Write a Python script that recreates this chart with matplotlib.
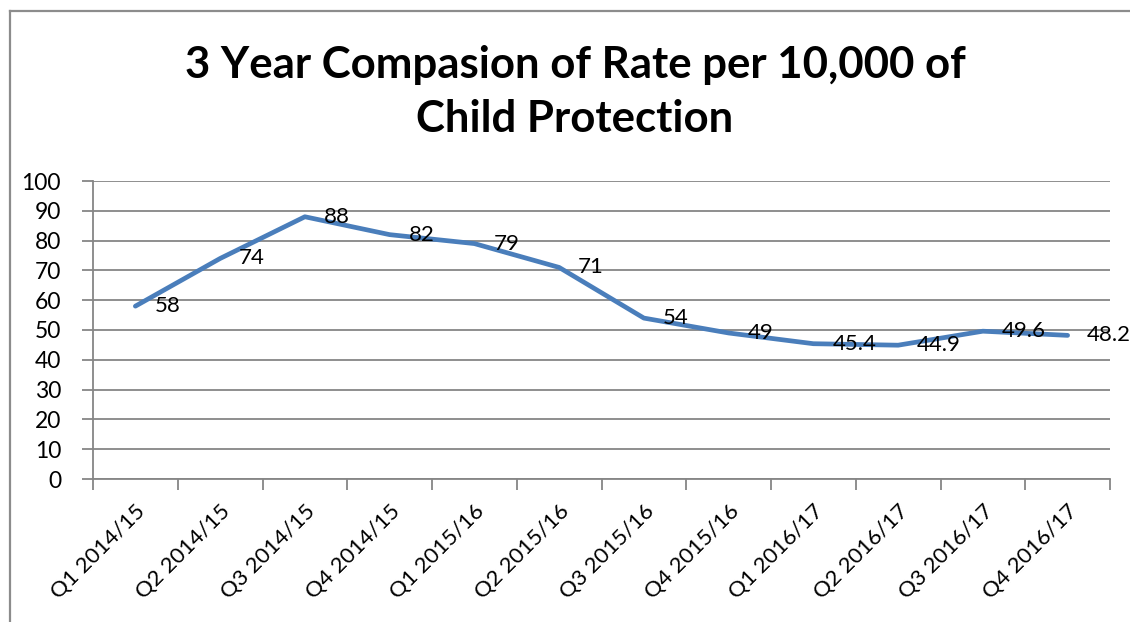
import matplotlib
matplotlib.use("Agg")
import matplotlib.pyplot as plt
from matplotlib.lines import Line2D

quarters = ["Q1 2014/15", "Q2 2014/15", "Q3 2014/15", "Q4 2014/15",
            "Q1 2015/16", "Q2 2015/16", "Q3 2015/16", "Q4 2015/16",
            "Q1 2016/17", "Q2 2016/17", "Q3 2016/17", "Q4 2016/17"]
rate = [58, 74, 88, 82, 79, 71, 54, 49, 45.4, 44.9, 49.6, 48.2]
labels = ["58", "74", "88", "82", "79", "71", "54", "49", "45.4", "44.9", "49.6", "48.2"]

title = "3 Year Compasion of Rate per 10,000 of\nChild Protection"

plt.rcParams["font.family"] = ["Lato", "DejaVu Sans"]

fig = plt.figure(figsize=(11.3, 6.22), dpi=100)
ax = fig.add_axes([93 / 1130, 1 - 479 / 622, 1017 / 1130, 298 / 622])

grid_col = "#868686"
x = list(range(len(quarters)))
ax.plot(x, rate, color="#4A7EBB", linewidth=3.4, solid_capstyle="round",
        solid_joinstyle="round", zorder=3)

for xi, yi, lab in zip(x, rate, labels):
    ax.annotate(lab, (xi, yi), xytext=(19, 0), textcoords="offset pixels",
                ha="left", va="center", fontsize=16, color="black", zorder=4)

ax.set_xlim(-0.5, len(quarters) - 0.5)
ax.set_ylim(0, 100)
ax.set_yticks(range(0, 101, 10))
ax.yaxis.grid(True, color=grid_col, linewidth=1.3)
ax.set_axisbelow(True)

# category labels at centres, tick marks at the boundaries
ax.set_xticks(x)
ax.set_xticklabels(quarters, rotation=45, ha="right", rotation_mode="anchor",
                   fontsize=16)
ax.set_xticks([i - 0.5 for i in range(len(quarters) + 1)], minor=True)
ax.tick_params(axis="x", which="major", length=0, pad=16)
ax.tick_params(axis="x", which="minor", length=8, width=1.3, color=grid_col)
ax.tick_params(axis="y", length=8, width=1.3, color=grid_col, labelsize=16.5, pad=15)

for side in ["top", "right"]:
    ax.spines[side].set_visible(False)
for side in ["left", "bottom"]:
    ax.spines[side].set_color(grid_col)
    ax.spines[side].set_linewidth(1.3)

fig.text(575 / 1130, 1 - 92 / 622, title, ha="center", va="center",
         fontsize=31.5, fontweight="bold", linespacing=1.42)

# chart area outline
fig.add_artist(Line2D([10 / 1130, 1], [1 - 11 / 622, 1 - 11 / 622],
                      transform=fig.transFigure, color="#8c8c8c", linewidth=1.6))
fig.add_artist(Line2D([10 / 1130, 10 / 1130], [0, 1 - 11 / 622],
                      transform=fig.transFigure, color="#8c8c8c", linewidth=1.6))

fig.savefig("out.png", dpi=100)
